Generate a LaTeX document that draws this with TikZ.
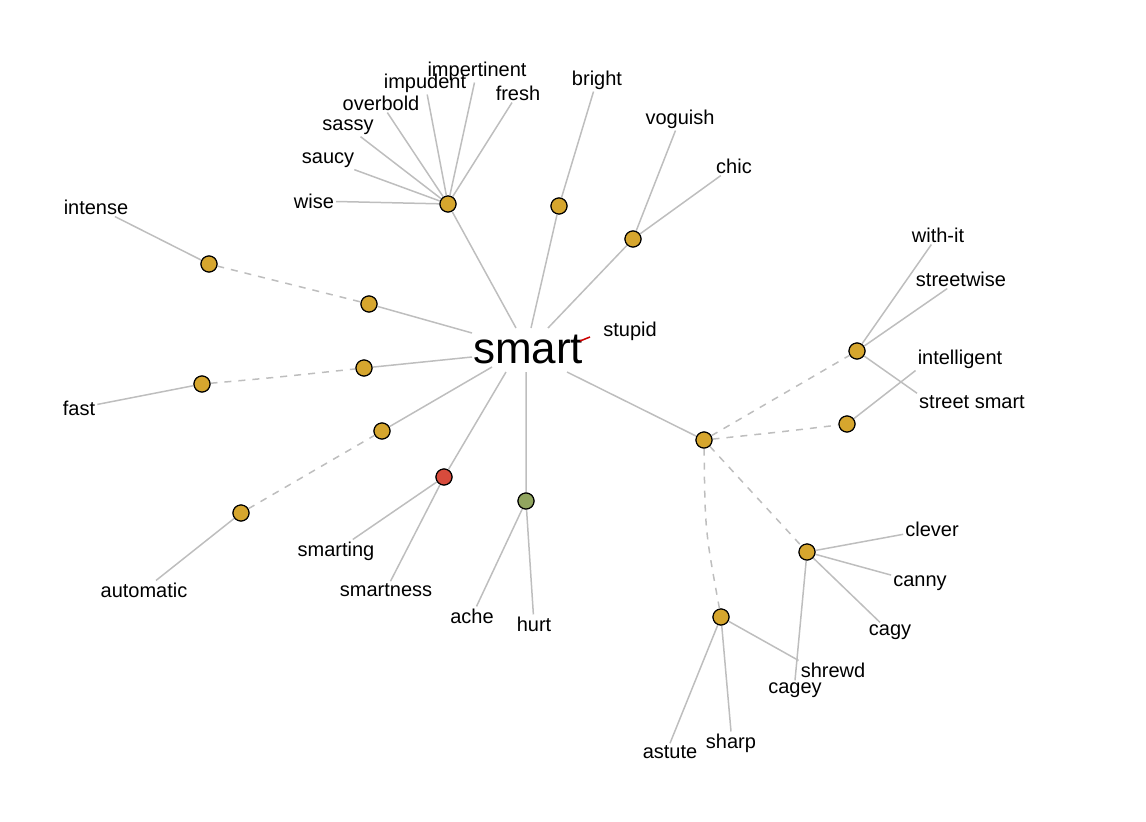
\documentclass[tikz,border=0pt]{standalone}
\usepackage{fontspec}
\setmainfont{Liberation Sans}
\begin{document}
\begin{tikzpicture}[x=1pt,y=-1pt,
  hub/.style={circle,draw=black,line width=1.1pt,minimum size=16pt,inner sep=0pt},
  gold/.style={hub,fill={rgb,255:red,214;green,166;blue,46}},
  lbl/.style={font=\fontsize{20}{22}\selectfont,inner sep=2pt},
  edge/.style={draw={rgb,255:red,190;green,190;blue,190},line width=1.5pt},
  dedge/.style={edge,dash pattern=on 7pt off 7pt}]
\useasboundingbox (0,0) rectangle (1146,822);
\node[font=\fontsize{44}{48}\selectfont,inner sep=0pt] (smart) at (528,349) {smart};
% hubs
\node[gold] (hw) at (448,204) {};
\node[gold] (hb) at (559,206) {};
\node[gold] (hc) at (633,239) {};
\node[gold] (hi1) at (209,264) {};
\node[gold] (hi2) at (369,304) {};
\node[gold] (hf2) at (364,368) {};
\node[gold] (hf1) at (202,384) {};
\node[gold] (ha2) at (382,431) {};
\node[gold] (ha1) at (241,513) {};
\node[hub,fill={rgb,255:red,215;green,75;blue,60}] (hr) at (444,477) {};
\node[hub,fill={rgb,255:red,145;green,165;blue,95}] (hg) at (526,501) {};
\node[gold] (hR) at (704,440) {};
\node[gold] (hwi) at (857,351) {};
\node[gold] (hin) at (847,424) {};
\node[gold] (hcl) at (807,552) {};
\node[gold] (hsh) at (721,617) {};
% labels
\node[lbl] (wise) at (314,201) {wise};
\node[lbl] (saucy) at (328,160) {saucy};
\node[lbl] (sassy) at (348,127) {sassy};
\node[lbl] (overbold) at (381,103) {overbold};
\node[lbl] (impudent) at (425,83) {impudent};
\node[lbl] (impertinent) at (477,71) {impertinent};
\node[lbl] (fresh) at (518,93) {fresh};
\node[lbl] (bright) at (597,80) {bright};
\node[lbl] (voguish) at (680,119) {voguish};
\node[lbl] (chic) at (734,166) {chic};
\node[lbl] (intense) at (96,207) {intense};
\node[lbl] (fast) at (79,408) {fast};
\node[lbl] (automatic) at (144,590) {automatic};
\node[lbl] (smarting) at (336,551) {smarting};
\node[lbl] (smartness) at (386,590) {smartness};
\node[lbl] (ache) at (472,616) {ache};
\node[lbl] (hurt) at (534,624) {hurt};
\node[lbl] (withit) at (938,235) {with-it};
\node[lbl] (streetwise) at (961,279) {streetwise};
\node[lbl] (intelligent) at (960,359) {intelligent};
\node[lbl] (streetsmart) at (972,402) {street smart};
\node[lbl] (clever) at (932,529) {clever};
\node[lbl] (canny) at (920,583) {canny};
\node[lbl] (cagy) at (890,632) {cagy};
\node[lbl] (shrewd) at (833,670) {shrewd};
\node[lbl] (cagey) at (795,690) {cagey};
\node[lbl] (astute) at (670,752) {astute};
\node[lbl] (sharp) at (731,743) {sharp};
\node[lbl] (stupid) at (630,331) {stupid};
\coordinate (s1) at (516,328);
\coordinate (s2) at (531,328);
\coordinate (s3) at (548,328);
\coordinate (s4) at (472,333);
\coordinate (s5) at (472,357);
\coordinate (s6) at (492,367);
\coordinate (s7) at (506,372);
\coordinate (s8) at (526,372);
\coordinate (s9) at (567,372);
\coordinate (st1) at (580,341);
\coordinate (st2) at (590,337);
\begin{scope}[on background layer/.style={}]
\path[edge] (s1) -- (hw) (s2) -- (hb) (s3) -- (hc) (s4) -- (hi2) (s5) -- (hf2)
  (s6) -- (ha2) (s7) -- (hr) (s8) -- (hg) (s9) -- (hR);
\path[edge] (hw) -- (wise) (hw) -- (saucy) (hw) -- (sassy) (hw) -- (overbold)
  (hw) -- (impudent) (hw) -- (impertinent) (hw) -- (fresh);
\path[edge] (hb) -- (bright) (hc) -- (voguish) (hc) -- (chic);
\path[edge] (hi1) -- (intense) (hf1) -- (fast) (ha1) -- (automatic);
\path[edge] (hr) -- (smarting) (hr) -- (smartness) (hg) -- (ache) (hg) -- (hurt);
\path[edge] (hwi) -- (withit) (hwi) -- (streetwise) (hwi) -- (streetsmart.north west) (hin) -- (intelligent.south west);
\path[edge] (hcl) -- (clever) (hcl) -- (canny) (hcl) -- (cagy) (hcl) -- (cagey.north);
\path[edge] (hsh) -- (shrewd.north west) (hsh) -- (astute.north) (hsh) -- (sharp.north);
\path[dedge] (hi1) -- (hi2) (hf1) .. controls (270,378) .. (hf2) (ha1) -- (ha2)
  (hR) -- (hwi) (hR) .. controls (780,432) .. (hin) (hR) -- (hcl) (hR) .. controls (705,530) .. (hsh);
\draw[red!80!black,line width=1.5pt] (st1) -- (st2);
\end{scope}
% redraw hubs on top
\foreach \n in {hw,hb,hc,hi1,hi2,hf2,hf1,ha2,ha1,hR,hwi,hin,hcl,hsh}
  \node[gold] at (\n) {};
\node[hub,fill={rgb,255:red,215;green,75;blue,60}] at (hr) {};
\node[hub,fill={rgb,255:red,145;green,165;blue,95}] at (hg) {};
\end{tikzpicture}
\end{document}
